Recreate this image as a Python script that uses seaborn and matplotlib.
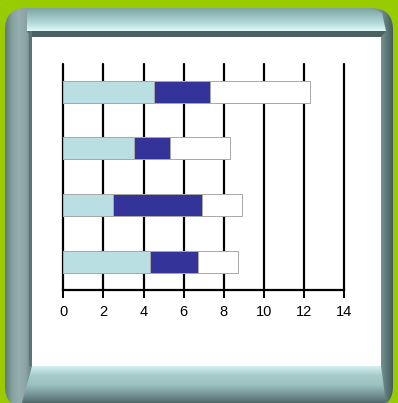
import numpy as np
import pandas as pd
import matplotlib
matplotlib.use("Agg")
import matplotlib.pyplot as plt
from matplotlib.patches import FancyBboxPatch, Polygon, Rectangle
from matplotlib.colors import LinearSegmentedColormap
import seaborn as sns

# ---- data ----
categories = ["A", "B", "C", "D"]          # top to bottom
series1 = [4.5, 3.5, 2.5, 4.3]             # light blue
series2 = [2.8, 1.8, 4.4, 2.4]             # dark blue
series3 = [5.0, 3.0, 2.0, 2.0]             # white
xticks = [0, 2, 4, 6, 8, 10, 12, 14]

c_light = "#B9DFE3"
c_dark = "#333399"
c_white = "#FFFFFF"
c_edge = "#A8A8A8"

sns.set_style("white")
plt.rcParams["font.family"] = ["Liberation Sans", "DejaVu Sans"]

W, H = 398, 403
fig = plt.figure(figsize=(W / 100, H / 100), dpi=100)
fig.patch.set_facecolor("#99CC00")

# ---- decorative frame (pixel coordinates) ----
bg = fig.add_axes([0, 0, 1, 1])
bg.set_xlim(0, W)
bg.set_ylim(H, 0)
bg.axis("off")
bg.set_zorder(0)


def grad(ax, x0, x1, y0, y1, colors, vertical=True, clip=None, z=1):
    cmap = LinearSegmentedColormap.from_list("g", colors)
    g = np.linspace(0, 1, 256)
    img = g[:, None] if vertical else g[None, :]
    im = ax.imshow(img, cmap=cmap, extent=(x0, x1, y1, y0), aspect="auto",
                   interpolation="bilinear", zorder=z)
    if clip is not None:
        im.set_clip_path(clip)
    return im


def clip_poly(ax, pts):
    p = Polygon(pts, closed=True, facecolor="none", edgecolor="none")
    ax.add_patch(p)
    return p


outer = FancyBboxPatch((5, 8), 388, 400, boxstyle="round,pad=0,rounding_size=22",
                       facecolor="#7c9c9c", edgecolor="none", zorder=1)
bg.add_patch(outer)

# left tube (full height)
grad(bg, 5, 33, 8, 410, ["#5d7878", "#86a0a0", "#95adad", "#8ba4a4", "#5a7373"],
     False, outer, 2)
# right tube (full height)
grad(bg, 379, 393, 8, 410, ["#7f9898", "#627b7b", "#465c5c"], False, outer, 2)
# top band
top_clip = clip_poly(bg, [(27, 8), (371, 8), (382, 13), (386, 31), (27, 31)])
grad(bg, 20, 390, 8, 31, ["#7ea2a2", "#98bfbf", "#b6dada", "#e2fbfb"], True, top_clip, 3)
# bottom band
bot_clip = clip_poly(bg, [(32, 366), (381, 366), (386, 403), (22, 403)])
grad(bg, 20, 390, 366, 403, ["#d4f0f0", "#a8cccc", "#9bc1c1", "#78989a", "#50696a"],
     True, bot_clip, 3)
# inner shadow (top)
bg.add_patch(Polygon([(27, 31), (386, 31), (381, 37), (32, 37)], closed=True,
                     facecolor="#4b6262", edgecolor="none", zorder=4))
# inner shadow (left edge)
bg.add_patch(Rectangle((29, 31), 3, 335, facecolor="#5d7575", edgecolor="none", zorder=4))
# inner white panel
bg.add_patch(Rectangle((32, 37), 349, 329, facecolor="white", edgecolor="none", zorder=5))

# ---- chart ----
df = pd.DataFrame({"cat": categories, "s1": series1, "s2": series2, "s3": series3})
df["c2"] = df["s1"] + df["s2"]
df["c3"] = df["c2"] + df["s3"]

ax = fig.add_axes([63.3 / W, (H - 290.0) / H, (344.3 - 63.3) / W, 226.5 / H])
ax.set_zorder(2)
ax.patch.set_alpha(0)
kw = dict(y="cat", orient="h", width=0.39, edgecolor=c_edge, linewidth=0.7, ax=ax,
          order=categories)
sns.barplot(data=df, x="c3", color=c_white, **kw)
sns.barplot(data=df, x="c2", color=c_dark, **kw)
sns.barplot(data=df, x="s1", color=c_light, **kw)
n = len(categories)
for i, p in enumerate(ax.patches):
    p.set_zorder(3)
    p.set_facecolor([c_white, c_dark, c_light][i // n])

ax.set_xlim(0, 14)
ax.set_ylim(3.5, -0.5)
ax.set_xticks(xticks)
ax.set_xticklabels([str(t) for t in xticks])
ax.set_yticks([])
ax.set_xlabel("")
ax.set_ylabel("")
ax.grid(axis="x", color="black", linewidth=1.6)
for gl in ax.get_xgridlines():
    gl.set_clip_on(False)
    gl.set_zorder(1)
ax.set_axisbelow(True)
for s in ["top", "right", "left"]:
    ax.spines[s].set_visible(False)
ax.spines["bottom"].set_color("black")
ax.spines["bottom"].set_linewidth(1.6)
ax.tick_params(axis="x", direction="out", length=6, width=1.4, color="black",
               labelsize=10.5, labelcolor="black", pad=5, bottom=True)

fig.savefig("out.png", dpi=100, facecolor=fig.get_facecolor())
